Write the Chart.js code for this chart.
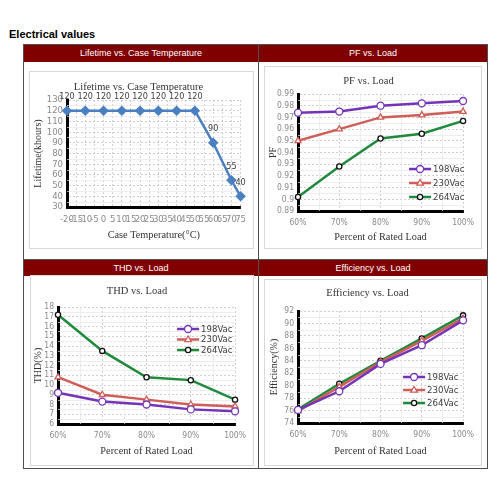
<!DOCTYPE html>
<html>
<head>
<meta charset="utf-8">
<script src="https://cdn.jsdelivr.net/npm/chart.js@4.4.1/dist/chart.umd.min.js"></script>
<style>
  body { margin: 0; width: 500px; height: 500px; background: #fff; position: relative; overflow: hidden; font-family: Arial, 'Liberation Sans', sans-serif; }
  #heading { position: absolute; left: 9px; top: 28px; font-size: 11px; font-weight: bold; color: #000; }
  #table { position: absolute; left: 23px; top: 44px; width: 463px; height: 423px; border: 1px solid #505050; }
  .hdr { position: absolute; background: #800000; color: #fff; font-size: 9px; text-align: center; }
  .vline { position: absolute; left: 234px; top: 0; width: 1px; height: 423px; background: #505050; }
  .hline { position: absolute; left: 0; top: 214px; width: 463px; height: 1px; background: #505050; }
  .box { position: absolute; border: 1px solid #d9d9d9; background: #fff; }
  .box canvas { position: absolute; left: 0; top: 0; }
</style>
</head>
<body>
<div id="heading">Electrical values</div>
<div id="table">
  <div class="hdr" style="left:0;top:0;width:234px;height:17px;line-height:17px;">Lifetime vs. Case Temperature</div>
  <div class="hdr" style="left:235px;top:0;width:228px;height:17px;line-height:17px;">PF vs. Load</div>
  <div class="hdr" style="left:0;top:215px;width:234px;height:16px;line-height:16px;">THD vs. Load</div>
  <div class="hdr" style="left:235px;top:215px;width:228px;height:16px;line-height:16px;">Efficiency vs. Load</div>
  <div class="vline"></div>
  <div class="hline"></div>
</div>
<div class="box" style="left:29px;top:71px;width:223px;height:176px;"><canvas id="life" width="223" height="176"></canvas></div>
<div class="box" style="left:264px;top:66px;width:216px;height:181px;"><canvas id="pf" width="216" height="181"></canvas></div>
<div class="box" style="left:30px;top:275px;width:222px;height:189px;"><canvas id="thd" width="222" height="189"></canvas></div>
<div class="box" style="left:264px;top:279px;width:216px;height:185px;"><canvas id="eff" width="216" height="185"></canvas></div>

<script>
// Lifetime vs. case temperature
const tempLabels = ['-20','-15','-10','-5','0','5','10','15','20','25','30','35','40','45','50','55','60','65','70','75'];
const lifetimeValues = [120,null,120,null,120,null,120,null,120,null,120,null,120,null,120,null,90,null,55,40];
const lifetimeRange = [30, 130, 10];

// load curves
const loadLabels = ['60%','70%','80%','90%','100%'];
const seriesNames = ['198Vac','230Vac','264Vac'];

const pf198 = [0.974, 0.975, 0.980, 0.982, 0.984];
const pf230 = [0.950, 0.960, 0.970, 0.972, 0.975];
const pf264 = [0.902, 0.928, 0.952, 0.956, 0.967];
const pfRange = [0.89, 0.99, 0.01];

const thd198 = [9.2, 8.3, 8.0, 7.5, 7.3];
const thd230 = [10.8, 9.0, 8.5, 8.0, 7.8];
const thd264 = [17.2, 13.5, 10.8, 10.5, 8.5];
const thdRange = [6, 18, 1];

const eff198 = [76.1, 79.1, 83.5, 86.5, 90.5];
const eff230 = [75.9, 79.8, 83.8, 87.2, 90.8];
const eff264 = [76.2, 80.3, 84.0, 87.6, 91.3];
const effRange = [74, 92, 2];

const SERIF = "'Liberation Serif', 'Times New Roman', serif";
const NARROW = "'Liberation Sans Narrow', 'DejaVu Sans Condensed', 'Liberation Sans', sans-serif";
const seriesColors = ['#7434b8', '#cf5d58', '#1f8a3b'];

// small marker helper (used by the legend)
function marker(ctx, style, x, y, r) {
    ctx.beginPath();
    if (style === 'triangle') {
        ctx.moveTo(x, y - r);
        ctx.lineTo(x + r * 0.95, y + r * 0.6);
        ctx.lineTo(x - r * 0.95, y + r * 0.6);
        ctx.closePath();
    } else {
        ctx.arc(x, y, r, 0, Math.PI * 2);
    }
    ctx.fill();
    ctx.stroke();
}

// value labels over the points
const pointLabels = {
    id: 'pointLabels',
    afterDatasetsDraw(chart, args, opts) {
        if (!opts.show) return;
        const ctx = chart.ctx;
        const ds = chart.data.datasets[0];
        const meta = chart.getDatasetMeta(0);
        ctx.save();
        ctx.font = '9px ' + NARROW;
        ctx.fillStyle = '#404040';
        ctx.textAlign = 'center';
        ctx.textBaseline = 'middle';
        meta.data.forEach((pt, i) => {
            if (ds.data[i] == null) return;
            ctx.fillText(String(ds.data[i]), pt.x, pt.y - 14);
        });
        ctx.restore();
    }
};

// lighter grid lines between the major ones
const minorGrid = {
    id: 'minorGrid',
    beforeDatasetsDraw(chart, args, opts) {
        if (!opts.show) return;
        const { ctx, chartArea: a, scales: { x, y } } = chart;
        ctx.save();
        ctx.strokeStyle = '#e6e6e6';
        ctx.lineWidth = 0.7;
        ctx.beginPath();
        if (opts.x) {
            for (let i = 0; i < x.ticks.length - 1; i++) {
                const px = Math.round((x.getPixelForTick(i) + x.getPixelForTick(i + 1)) / 2) + 0.5;
                ctx.moveTo(px, a.top); ctx.lineTo(px, a.bottom);
            }
        }
        for (let i = 0; i < y.ticks.length - 1; i++) {
            const py = Math.round((y.getPixelForTick(i) + y.getPixelForTick(i + 1)) / 2) + 0.5;
            ctx.moveTo(a.left, py); ctx.lineTo(a.right, py);
        }
        ctx.stroke();
        ctx.restore();
    }
};

// legend placed inside the plot
const boxLegend = {
    id: 'boxLegend',
    afterDraw(chart, args, opts) {
        if (!opts.show) return;
        const { ctx, chartArea: a } = chart;
        const x0 = a.right - opts.right;
        ctx.save();
        chart.data.datasets.forEach((ds, i) => {
            const y = (opts.fromBottom ? a.bottom - opts.offset : a.top + opts.offset) + i * opts.gap;
            ctx.strokeStyle = ds.borderColor;
            ctx.lineWidth = ds.borderWidth;
            ctx.beginPath();
            ctx.moveTo(x0, y); ctx.lineTo(x0 + 22, y);
            ctx.stroke();
            ctx.fillStyle = '#fff';
            ctx.strokeStyle = ds.pointBorderColor;
            ctx.lineWidth = ds.pointBorderWidth;
            marker(ctx, ds.pointStyle, x0 + 11, y, ds.pointRadius);
            ctx.fillStyle = '#404040';
            ctx.font = '9.5px ' + NARROW;
            ctx.textBaseline = 'middle';
            ctx.textAlign = 'left';
            ctx.fillText(ds.label, x0 + 24, y + 0.5);
        });
        ctx.restore();
    }
};

Chart.register(pointLabels, minorGrid, boxLegend);

function loadSets(v198, v230, v264) {
    const vals = [v198, v230, v264];
    const styles = ['circle', 'triangle', 'circle'];
    const radii = [3.5, 3.5, 2.6];
    const pBorders = [seriesColors[0], seriesColors[1], '#111'];
    return vals.map((v, i) => ({
        label: seriesNames[i],
        data: v,
        borderColor: seriesColors[i],
        borderWidth: 2.5,
        pointStyle: styles[i],
        pointRadius: radii[i],
        pointBackgroundColor: '#fff',
        pointBorderColor: pBorders[i],
        pointBorderWidth: 1.3,
        tension: 0,
        clip: false
    }));
}

// geometry: L/T/R/B = distance of the plot from canvas edges
function makeOptions(g) {
    const tickFont = { family: NARROW, size: g.tickSize || 8.5 };
    return {
        responsive: false,
        animation: false,
        layout: { padding: { left: 0, top: 0, right: g.R, bottom: 0 } },
        plugins: {
            legend: { display: false },
            tooltip: { enabled: false },
            title: {
                display: true, text: g.title, color: '#333',
                font: { family: SERIF, size: 10.5, weight: 'normal', lineHeight: 1.2 },
                padding: { top: g.titleY - 6.3, bottom: g.T - (g.titleY - 6.3) - 12.6 }
            },
            pointLabels: { show: !!g.pointLabels },
            minorGrid: { show: g.minor !== false, x: g.minorX !== false },
            boxLegend: g.legend || { show: false }
        },
        scales: {
            x: {
                offset: false,
                afterFit: s => { s.height = g.B; },
                grid: { color: '#c4c4c4', lineWidth: 0.8, drawTicks: false },
                border: { display: true, color: '#000', width: 3, dash: [2, 2] },
                ticks: { color: '#8a8a8a', font: tickFont, padding: g.xTickPad || 7, autoSkip: false, maxRotation: 0, minRotation: 0 },
                title: { display: true, text: g.xTitle, color: '#333', font: { family: SERIF, size: 10.3, lineHeight: 1.2 }, padding: { top: 0, bottom: g.xTitleB - 6.2 } }
            },
            y: {
                min: g.range[0], max: g.range[1],
                afterFit: s => { s.width = g.L; },
                grid: { color: '#c4c4c4', lineWidth: 0.8, drawTicks: false },
                border: { display: true, color: '#000', width: 3, dash: [2, 2] },
                ticks: {
                    stepSize: g.range[2], autoSkip: false, color: '#8a8a8a', font: tickFont, padding: 4,
                    callback: v => String(+v.toFixed(2))
                },
                title: { display: true, text: g.yTitle, color: '#333', font: { family: SERIF, size: 10, lineHeight: 1.2 }, padding: { top: g.yTitleX - 6, bottom: 0 } }
            }
        }
    };
}

// Lifetime chart
new Chart(document.getElementById('life'), {
    type: 'line',
    data: {
        labels: tempLabels,
        datasets: [{
            label: 'Lifetime',
            data: lifetimeValues,
            spanGaps: true,
            borderColor: '#4a7fc1',
            backgroundColor: '#4a7fc1',
            borderWidth: 2.5,
            pointStyle: 'rectRot',
            pointRadius: 3.5,
            pointBackgroundColor: '#4a7fc1',
            pointBorderColor: '#4a7fc1',
            clip: false
        }]
    },
    options: makeOptions({
        title: 'Lifetime vs. Case Temperature', titleY: 15,
        L: 37, T: 28, R: 6, B: 41, range: lifetimeRange, tickSize: 9.5,
        xTitle: 'Case Temperature(\u00b0C)', xTitleB: 13, yTitle: 'Lifetime(khours)', yTitleX: 8,
        pointLabels: true, minorX: false
    })
});

new Chart(document.getElementById('pf'), {
    type: 'line',
    data: { labels: loadLabels, datasets: loadSets(pf198, pf230, pf264) },
    options: makeOptions({
        title: 'PF vs. Load', titleY: 14,
        L: 33, T: 27, R: 9, B: 37, range: pfRange,
        xTitle: 'Percent of Rated Load', xTitleB: 11, yTitle: 'PF', yTitleX: 8,
        legend: { show: true, right: 54, fromBottom: true, offset: 42, gap: 14 }
    })
});

new Chart(document.getElementById('thd'), {
    type: 'line',
    data: { labels: loadLabels, datasets: loadSets(thd198, thd230, thd264) },
    options: makeOptions({
        title: 'THD vs. Load', titleY: 15,
        L: 27, T: 31, R: 10, B: 41, range: thdRange,
        xTitle: 'Percent of Rated Load', xTitleB: 14, yTitle: 'THD(%)', yTitleX: 7,
        legend: { show: true, right: 58, fromBottom: false, offset: 22, gap: 10.5 }
    })
});

new Chart(document.getElementById('eff'), {
    type: 'line',
    data: { labels: loadLabels, datasets: loadSets(eff198, eff230, eff264) },
    options: makeOptions({
        title: 'Efficiency vs. Load', titleY: 13,
        L: 33, T: 31, R: 11, B: 42, range: effRange,
        xTitle: 'Percent of Rated Load', xTitleB: 14, yTitle: 'Efficiency(%)', yTitleX: 9,
        legend: { show: true, right: 60, fromBottom: true, offset: 46, gap: 13 }
    })
});
</script>
</body>
</html>
